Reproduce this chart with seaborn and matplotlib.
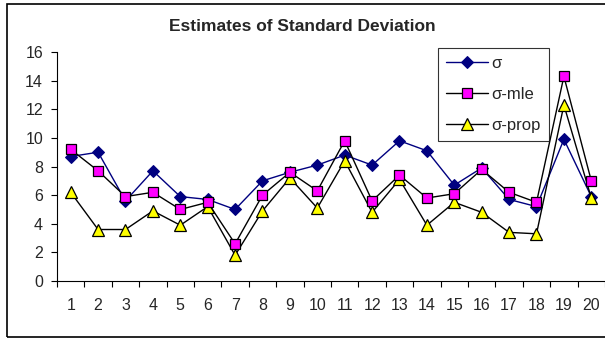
import matplotlib
matplotlib.use("Agg")
import matplotlib.pyplot as plt
from matplotlib.patches import Rectangle
import numpy as np
import pandas as pd
import seaborn as sns

# Sample index and the three standard deviation estimates
samples = list(range(1, 21))
sigma = [8.7, 9.0, 5.6, 7.7, 5.9, 5.7, 5.0, 7.0, 7.6, 8.1,
         8.8, 8.1, 9.8, 9.1, 6.7, 7.9, 5.7, 5.2, 9.9, 5.9]
sigma_mle = [9.2, 7.7, 5.9, 6.2, 5.0, 5.5, 2.6, 6.0, 7.6, 6.3,
             9.8, 5.6, 7.4, 5.8, 6.1, 7.8, 6.2, 5.5, 14.3, 7.0]
sigma_prop = [6.2, 3.6, 3.6, 4.9, 3.9, 5.2, 1.8, 4.9, 7.2, 5.1,
              8.4, 4.8, 7.1, 3.9, 5.5, 4.8, 3.4, 3.3, 12.3, 5.8]
series_names = ["σ", "σ-mle", "σ-prop"]
title = "Estimates of Standard Deviation"
y_ticks = [0, 2, 4, 6, 8, 10, 12, 14, 16]

sns.set_theme(style="white")
plt.rcParams["font.family"] = ["Liberation Sans", "DejaVu Sans"]

df = pd.DataFrame({"sample": samples * 3,
                   "value": sigma + sigma_mle + sigma_prop,
                   "series": np.repeat(series_names, len(samples))})

fig = plt.figure(figsize=(6.05, 3.39), dpi=100)
ax = fig.add_axes([0.0942, 0.171, 0.9058, 0.6755])

styles = {
    "σ": dict(color="#000080", marker="D", markersize=6, markerfacecolor="#000080",
              markeredgecolor="#000080", linewidth=1.0),
    "σ-mle": dict(color="black", marker="s", markersize=6.5, markerfacecolor="#FF00FF",
                  markeredgecolor="black", markeredgewidth=0.9, linewidth=1.0),
    "σ-prop": dict(color="black", marker="^", markersize=8.5, markerfacecolor="#FFFF00",
                   markeredgecolor="black", markeredgewidth=0.9, linewidth=1.0),
}
# draw back-to-front so σ sits under the others where they overlap
for name in ["σ", "σ-prop", "σ-mle"]:
    sub = df[df["series"] == name]
    sns.lineplot(data=sub, x="sample", y="value", ax=ax, label=name,
                 estimator=None, **styles[name])

ax.set_xlim(0.5, 20.5)
ax.set_ylim(0, 16)
ax.set_yticks(y_ticks)
ax.set_yticklabels([str(t) for t in y_ticks], fontsize=11.5)

# category axis: ticks at boundaries, labels at centres
ax.set_xticks(np.arange(0.5, 21.5, 1.0))
ax.set_xticklabels([])
ax.set_xticks(samples, minor=True)
ax.set_xticklabels([str(s) for s in samples], minor=True, fontsize=11.5)
ax.tick_params(axis="x", which="major", direction="out", length=4, width=0.8,
               color="black", bottom=True)
ax.tick_params(axis="x", which="minor", length=0, pad=12)
ax.tick_params(axis="y", direction="out", length=4, width=0.8, color="black",
               left=True, pad=6)

for side in ["top", "right"]:
    ax.spines[side].set_visible(False)
for side in ["left", "bottom"]:
    ax.spines[side].set_color("black")
    ax.spines[side].set_linewidth(0.8)
ax.set_xlabel("")
ax.set_ylabel("")
ax.set_facecolor("white")
ax.grid(False)

fig.text(0.5, 0.922, title, ha="center", va="center", fontsize=12.5,
         fontweight="bold")

handles, labels = ax.get_legend_handles_labels()
order = [labels.index(n) for n in series_names]
leg = fig.legend([handles[i] for i in order], [labels[i] for i in order],
                 loc="upper left", bbox_to_anchor=(438 / 605, 1 - 48 / 339),
                 frameon=True, fancybox=False, fontsize=12, handlelength=2.5,
                 borderpad=0.5, labelspacing=0.95, handletextpad=0.2,
                 borderaxespad=0)
leg.get_frame().set_edgecolor("black")
leg.get_frame().set_linewidth(0.8)
if ax.get_legend():
    ax.get_legend().remove()

# outer chart frame
fig.patches.append(Rectangle((7 / 605, 2 / 339), 1.2, 1 - 6 / 339,
                             transform=fig.transFigure, fill=False,
                             edgecolor="black", linewidth=1.2))

fig.savefig("out.png", dpi=100)
